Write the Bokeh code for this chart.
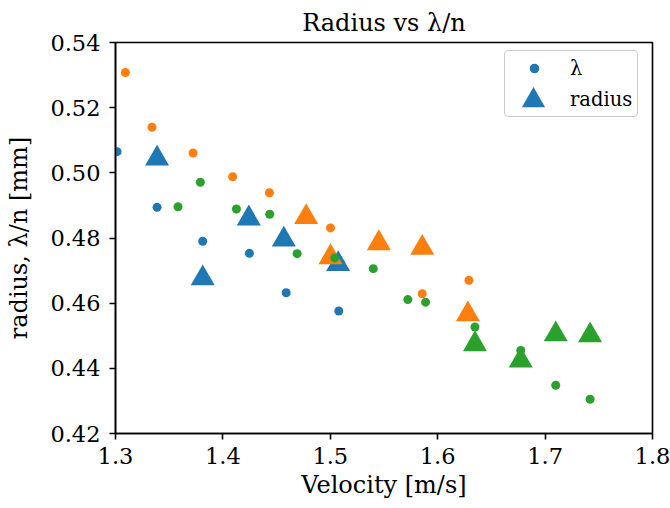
from bokeh.plotting import figure
from bokeh.models import Legend, LegendItem, FixedTicker, Range1d
from bokeh.embed import file_html
from bokeh.resources import INLINE

# ---- data ----
blue_lambda_v = [1.3015, 1.3387, 1.3812, 1.4247, 1.4589, 1.5079]
blue_lambda = [0.5065, 0.4894, 0.4790, 0.4753, 0.4632, 0.4576]
blue_radius_v = [1.3387, 1.3812, 1.4241, 1.4567, 1.5073]
blue_radius = [0.5044, 0.4676, 0.4860, 0.4795, 0.4720]

orange_lambda_v = [1.3092, 1.3340, 1.3722, 1.4091, 1.4433, 1.5002, 1.5856, 1.6291]
orange_lambda = [0.5308, 0.5140, 0.5061, 0.4988, 0.4939, 0.4831, 0.4629, 0.4670]
orange_radius_v = [1.4775, 1.5002, 1.5452, 1.5856, 1.6281]
orange_radius = [0.4864, 0.4741, 0.4784, 0.4770, 0.4566]

green_lambda_v = [1.3582, 1.3790, 1.4126, 1.4436, 1.4691, 1.5042, 1.5400,
                  1.5722, 1.5887, 1.6347, 1.6773, 1.7099, 1.7419]
green_lambda = [0.4896, 0.4971, 0.4889, 0.4873, 0.4752, 0.4739, 0.4706,
                0.4611, 0.4603, 0.4527, 0.4455, 0.4348, 0.4305]
green_radius_v = [1.6347, 1.6773, 1.7099, 1.7419]
green_radius = [0.4474, 0.4424, 0.4504, 0.4501]

x_ticks = [1.3, 1.4, 1.5, 1.6, 1.7, 1.8]
x_tick_labels = ["1.3", "1.4", "1.5", "1.6", "1.7", "1.8"]
y_ticks = [0.42, 0.44, 0.46, 0.48, 0.50, 0.52, 0.54]
y_tick_labels = ["0.42", "0.44", "0.46", "0.48", "0.50", "0.52", "0.54"]

title_text = "Radius vs λ/n"
x_label = "Velocity [m/s]"
y_label = "radius, λ/n [mm]"
legend_labels = ["λ", "radius"]

BLUE, ORANGE, GREEN = "#1f77b4", "#ff7f0e", "#2ca02c"
FONT = "DejaVu Serif"

p = figure(width=670, height=508,
           x_range=Range1d(1.3, 1.8), y_range=Range1d(0.42, 0.54),
           output_backend="svg", toolbar_location=None,
           min_border_left=115, min_border_right=18,
           min_border_top=42, min_border_bottom=75,
           title=title_text)

p.background_fill_color = "white"
p.border_fill_color = "white"
p.outline_line_color = "black"
p.outline_line_width = 1.6
p.grid.visible = False

p.title.text_font = FONT
p.title.text_font_size = "24px"
p.title.text_font_style = "normal"
p.title.text_color = "black"
p.title.align = "center"
p.title.standoff = 12

for ax in (p.xaxis[0], p.yaxis[0]):
    ax.axis_line_color = "black"
    ax.axis_line_width = 1.6
    ax.major_tick_line_color = "black"
    ax.major_tick_line_width = 1.6
    ax.major_tick_in = 0
    ax.major_tick_out = 6
    ax.minor_tick_line_color = None
    ax.major_label_text_font = FONT
    ax.major_label_text_font_size = "22.5px"
    ax.major_label_text_color = "black"
    ax.axis_label_text_font = FONT
    ax.axis_label_text_font_size = "24px"
    ax.axis_label_text_font_style = "normal"
    ax.axis_label_text_color = "black"

p.xaxis.ticker = FixedTicker(ticks=x_ticks)
p.xaxis.major_label_overrides = dict(zip(x_ticks, x_tick_labels))
p.yaxis.ticker = FixedTicker(ticks=y_ticks)
p.yaxis.major_label_overrides = dict(zip(y_ticks, y_tick_labels))
p.xaxis.axis_label = x_label
p.yaxis.axis_label = y_label
p.xaxis.major_label_standoff = 8
p.yaxis.major_label_standoff = 9
p.xaxis.axis_label_standoff = 4
p.yaxis.axis_label_standoff = 14

DOT = 9
TRI = 24

r_bl = p.scatter(blue_lambda_v, blue_lambda, marker="circle", size=DOT,
                 fill_color=BLUE, line_color=None)
r_br = p.scatter(blue_radius_v, blue_radius, marker="triangle", size=TRI,
                 fill_color=BLUE, line_color=None)
p.scatter(orange_lambda_v, orange_lambda, marker="circle", size=DOT,
          fill_color=ORANGE, line_color=None)
p.scatter(orange_radius_v, orange_radius, marker="triangle", size=TRI,
          fill_color=ORANGE, line_color=None)
p.scatter(green_lambda_v, green_lambda, marker="circle", size=DOT,
          fill_color=GREEN, line_color=None)
p.scatter(green_radius_v, green_radius, marker="triangle", size=TRI,
          fill_color=GREEN, line_color=None)

# main legend box (small glyphs)
leg = Legend(items=[LegendItem(label=legend_labels[0], renderers=[r_bl]),
                    LegendItem(label=legend_labels[1], renderers=[r_br])],
             location=(389, 316))
leg.padding = 5
leg.spacing = 7
leg.glyph_width = 48
leg.glyph_height = 24
leg.label_height = 24
leg.label_standoff = 12
leg.label_text_font = FONT
leg.label_text_font_size = "19.5px"
leg.label_text_color = "black"
leg.border_line_color = "#cccccc"
leg.border_line_width = 1.5
leg.border_line_alpha = 1.0
leg.background_fill_alpha = 0.8
leg.border_radius = 4
leg.margin = 0
p.add_layout(leg)

# overlay legend to draw the large triangle glyph
leg2 = Legend(items=[LegendItem(label=" ", renderers=[r_br])],
              location=(389, 304))
leg2.padding = 0
leg2.margin = 0
leg2.glyph_width = 58
leg2.glyph_height = 58
leg2.label_standoff = 0
leg2.label_width = 1
leg2.border_line_color = None
leg2.background_fill_alpha = 0
leg2.label_text_font_size = "1px"
p.add_layout(leg2)

html = file_html(p, INLINE)
open("out.html", "w").write(html)
